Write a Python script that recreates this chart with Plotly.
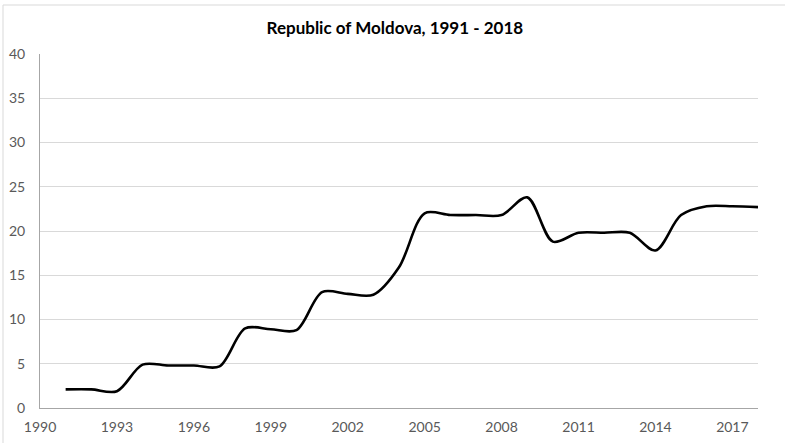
import plotly.graph_objects as go

# Annual values, Republic of Moldova
years = list(range(1991, 2019))
values = [2.1, 2.1, 1.9, 4.9, 4.8, 4.8, 4.7, 9.0, 8.9, 8.8,
          13.1, 12.9, 12.8, 15.9, 22.0, 21.8, 21.8, 21.8, 23.8, 18.8,
          19.8, 19.8, 19.8, 17.8, 21.8, 22.8, 22.8, 22.7]

x_ticks = list(range(1990, 2019, 3))
y_ticks = list(range(0, 41, 5))

FONT = "Lato"
TICK_COLOR = "#595959"

# plot area is 718 x 354 px; outer frame drawn in paper units
PW, PH = 718, 354

fig = go.Figure()
fig.add_trace(go.Scatter(
    x=years, y=values, mode="lines",
    line=dict(color="black", width=2.6, shape="spline", smoothing=0.9),
    hoverinfo="x+y", showlegend=False,
))

fig.update_layout(
    width=785, height=443,
    margin=dict(l=40, r=27, t=54, b=35),
    paper_bgcolor="white", plot_bgcolor="white",
    title=dict(text="<b>Republic of Moldova, 1991 - 2018</b>",
               x=0.503, xanchor="center", y=0.937, yanchor="middle",
               font=dict(family=FONT, size=17, color="black")),
    xaxis=dict(range=[1990, 2018], tickvals=x_ticks, showgrid=False,
               showline=True, linecolor="#a6a6a6", linewidth=1,
               ticks="", zeroline=False, ticklabelstandoff=6, automargin=False,
               tickfont=dict(family=FONT, size=14, color=TICK_COLOR)),
    yaxis=dict(range=[0, 40], tickvals=y_ticks, showgrid=True,
               gridcolor="#d9d9d9", gridwidth=1,
               showline=True, linecolor="#a6a6a6", linewidth=1,
               ticks="", zeroline=False, ticklabelstandoff=11, automargin=False,
               tickfont=dict(family=FONT, size=14, color=TICK_COLOR)),
    shapes=[dict(type="rect", xref="paper", yref="paper",
                 x0=-37 / PW, x1=760 / PW, y0=-50 / PH, y1=403 / PH,
                 line=dict(color="#d9d9d9", width=1), fillcolor="rgba(0,0,0,0)",
                 layer="below")],
)

fig.write_html("out.html")
